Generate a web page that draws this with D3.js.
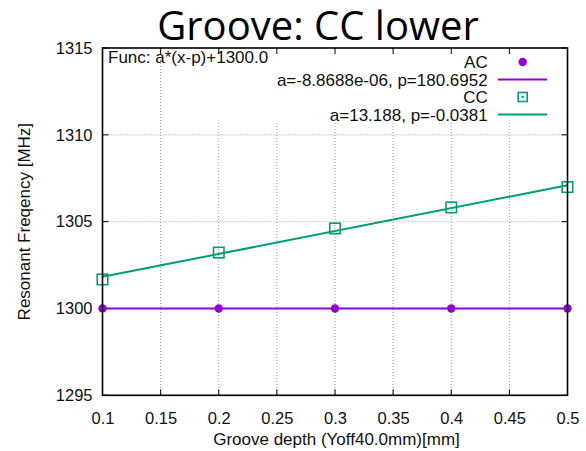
<!DOCTYPE html>
<html>
<head>
<meta charset="utf-8">
<script src="https://cdn.jsdelivr.net/npm/d3@7"></script>
<style>
  html, body { margin: 0; padding: 0; background: #fff; }
  svg { display: block; }
  text { font-family: "Liberation Sans", Arial, sans-serif; fill: #111; }
</style>
</head>
<body>
<svg id="chart" width="586" height="451"></svg>
<script>
// Groove depth sweep: resonant frequency of the AC and CC modes
const depths = [0.1, 0.2, 0.3, 0.4, 0.5];
const acFreq = [1300.0, 1300.0, 1300.0, 1300.0, 1300.0];
const ccFreq = [1301.67, 1303.22, 1304.61, 1305.82, 1306.99];

// Linear fit parameters, f(x) = a*(x-p) + 1300.0
const acFit = { a: -8.8688e-06, p: 180.6952 };
const ccFit = { a: 13.188, p: -0.0381 };
const fitBase = 1300.0;

const xTicks = [0.1, 0.15, 0.2, 0.25, 0.3, 0.35, 0.4, 0.45, 0.5];
const yTicks = [1295, 1300, 1305, 1310, 1315];

const titleText = "Groove: CC lower";
const xLabel = "Groove depth (Yoff40.0mm)[mm]";
const yLabel = "Resonant Freqency [MHz]";
const funcLabel = "Func: a*(x-p)+1300.0";
const legendRows = [
  { text: "AC", kind: "dot", color: "#9400d3" },
  { text: "a=-8.8688e-06, p=180.6952", kind: "line", color: "#9400d3" },
  { text: "CC", kind: "square", color: "#009e73" },
  { text: "a=13.188, p=-0.0381", kind: "line", color: "#009e73" }
];

const svg = d3.select("#chart");
const plot = { left: 102.5, right: 567.5, top: 48, bottom: 395.3 };

const x = d3.scaleLinear().domain([0.1, 0.5]).range([plot.left, plot.right]);
const y = d3.scaleLinear().domain([1295, 1315]).range([plot.bottom, plot.top]);

// Title
svg.append("text")
  .attr("x", 318).attr("y", 40)
  .attr("text-anchor", "middle")
  .style("font-family", "'Open Sans', sans-serif")
  .style("font-size", "40px")
  .style("fill", "#000")
  .text(titleText);

// Grid lines (dotted)
const grid = svg.append("g").attr("stroke", "#9a9a9a").attr("stroke-width", 1)
  .attr("stroke-dasharray", "1,2");
xTicks.slice(1, -1).forEach(t => {
  grid.append("line").attr("x1", x(t)).attr("x2", x(t))
    .attr("y1", plot.top).attr("y2", plot.bottom);
});
yTicks.slice(1, -1).forEach(t => {
  grid.append("line").attr("x1", plot.left).attr("x2", plot.right)
    .attr("y1", y(t)).attr("y2", y(t));
});

// Opaque key background
svg.append("rect")
  .attr("x", 200).attr("y", plot.top + 1)
  .attr("width", plot.right - 200 - 1).attr("height", 73)
  .attr("fill", "#fff");

// Axes: labels outside on left/bottom, inward ticks on all four sides
const tickLen = 6;
const bottomAxis = d3.axisBottom(x).tickValues(xTicks).tickSize(0).tickPadding(17)
  .tickFormat(d3.format("~g"));
const leftAxis = d3.axisLeft(y).tickValues(yTicks).tickSize(0).tickPadding(10)
  .tickFormat(d3.format("d"));

const gx = svg.append("g").attr("transform", `translate(0,${plot.bottom})`).call(bottomAxis);
const gy = svg.append("g").attr("transform", `translate(${plot.left},0)`).call(leftAxis);
[gx, gy].forEach(g => {
  g.select(".domain").remove();
  g.selectAll("text").style("font-family", "'Liberation Sans', Arial, sans-serif")
    .style("font-size", "16.5px").attr("fill", "#111");
});

const ticks = svg.append("g").attr("stroke", "#000").attr("stroke-width", 1);
xTicks.forEach(t => {
  ticks.append("line").attr("x1", x(t)).attr("x2", x(t))
    .attr("y1", plot.bottom).attr("y2", plot.bottom - tickLen);
  ticks.append("line").attr("x1", x(t)).attr("x2", x(t))
    .attr("y1", plot.top).attr("y2", plot.top + tickLen);
});
yTicks.forEach(t => {
  ticks.append("line").attr("x1", plot.left).attr("x2", plot.left + tickLen)
    .attr("y1", y(t)).attr("y2", y(t));
  ticks.append("line").attr("x1", plot.right).attr("x2", plot.right - tickLen)
    .attr("y1", y(t)).attr("y2", y(t));
});

// Axis titles
svg.append("text")
  .attr("x", 336.5).attr("y", 445)
  .attr("text-anchor", "middle")
  .style("font-size", "17px")
  .text(xLabel);
svg.append("text")
  .attr("transform", `translate(29.5,${(plot.top + plot.bottom) / 2}) rotate(-90)`)
  .attr("text-anchor", "middle")
  .style("font-size", "17px")
  .text(yLabel);

// Fit lines across the depth range, from the stated a and p
const line = d3.line().x(d => x(d[0])).y(d => y(d[1]));
const xEnds = [depths[0], depths[depths.length - 1]];
const fitPoints = fit => xEnds.map(d => [d, fit.a * (d - fit.p) + fitBase]);

svg.append("path")
  .datum(fitPoints(acFit))
  .attr("d", line).attr("fill", "none")
  .attr("stroke", "#9400d3").attr("stroke-width", 2);
svg.append("path")
  .datum(fitPoints(ccFit))
  .attr("d", line).attr("fill", "none")
  .attr("stroke", "#009e73").attr("stroke-width", 2);

// Data points
svg.append("g").selectAll("circle")
  .data(depths.map((d, i) => [d, acFreq[i]]))
  .join("circle")
  .attr("cx", d => x(d[0])).attr("cy", d => y(d[1]))
  .attr("r", 4.2).attr("fill", "#9400d3");

const sq = 10.5;
svg.append("g").selectAll("rect")
  .data(depths.map((d, i) => [d, ccFreq[i]]))
  .join("rect")
  .attr("x", d => x(d[0]) - sq / 2).attr("y", d => y(d[1]) - sq / 2)
  .attr("width", sq).attr("height", sq)
  .attr("fill", "none").attr("stroke", "#009e73").attr("stroke-width", 1.6);

// Plot border
svg.append("rect")
  .attr("x", plot.left).attr("y", plot.top)
  .attr("width", plot.right - plot.left).attr("height", plot.bottom - plot.top)
  .attr("fill", "none").attr("stroke", "#000").attr("stroke-width", 1.6);

// Function label
svg.append("text")
  .attr("x", 108).attr("y", 62.5)
  .style("font-size", "17px")
  .text(funcLabel);

// Key
const key = svg.append("g");
const rowY = [62, 79.5, 97, 114.5];
legendRows.forEach((r, i) => {
  const cy = rowY[i];
  key.append("text")
    .attr("x", 487.7).attr("y", cy + 6)
    .attr("text-anchor", "end")
    .style("font-size", "17px")
    .text(r.text);
  if (r.kind === "line") {
    key.append("line").attr("x1", 498).attr("x2", 547)
      .attr("y1", cy).attr("y2", cy)
      .attr("stroke", r.color).attr("stroke-width", 2);
  } else if (r.kind === "dot") {
    key.append("circle").attr("cx", 522.7).attr("cy", cy).attr("r", 4.2)
      .attr("fill", r.color);
  } else {
    key.append("rect").attr("x", 522.7 - 4.5).attr("y", cy - 4.5)
      .attr("width", 9).attr("height", 9)
      .attr("fill", "none").attr("stroke", r.color).attr("stroke-width", 1.6);
    key.append("circle").attr("cx", 522.7).attr("cy", cy).attr("r", 1.2)
      .attr("fill", r.color);
  }
});
</script>
</body>
</html>
